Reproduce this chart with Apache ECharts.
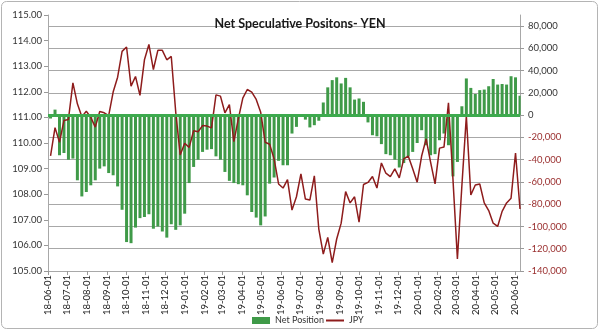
<!DOCTYPE html>
<html>
<head>
<meta charset="utf-8">
<title>Net Speculative Positons- YEN</title>
<script src="https://cdn.jsdelivr.net/npm/echarts@6/dist/echarts.min.js"></script>
<style>
  html, body { margin: 0; padding: 0; background: #fff; }
  #chart { width: 600px; height: 333px; }
</style>
</head>
<body>
<div id="chart"></div>
<script>
// Weekly COT report dates start here and step one week per value.
const firstReportDate = '2018-06-05';
const axisStartDate = '2018-06-01';
const axisEndDate = '2020-06-09';

// Net speculative position in yen futures (contracts), one value per week.
const netPosition = [
  -3000, 5000, -36000, -34000, -40000, -39000, -58500, -73000, -69000, -63000,
  -58500, -48000, -46000, -52000, -54000, -64000, -85000, -114000, -115000, -101000,
  -92500, -91500, -89000, -102000, -100000, -104500, -110000, -98000, -103000, -99000,
  -88500, -61000, -46500, -40000, -33000, -31000, -30500, -37000, -40000, -51000,
  -59000, -61000, -62000, -63000, -72000, -87000, -92000, -99000, -91000, -61500,
  -56000, -41000, -45000, -45000, -16500, -10500, -1000, -4000, -11000, -9000,
  -5000, 11400, 25000, 31500, 34000, 28500, 33500, 25000, 14000, 15000,
  12000, -6500, -18000, -19000, -26000, -35000, -36000, -40000, -47000, -43000,
  -37000, -33000, -25000, -13500, -27000, -36000, -35000, -22500, -16500, -27000,
  -55000, -42000, 8000, 33000, 24500, 19000, 22500, 23000, 26000, 32500,
  27500, 28000, 27500, 35000, 34000, 17500
];

// USD/JPY on the same weekly dates.
const jpy = [
  109.50, 110.60, 110.03, 110.88, 110.92, 112.35, 111.53, 111.03, 111.24, 111.00,
  110.62, 111.23, 111.18, 111.07, 111.99, 112.57, 113.58, 113.75, 112.22, 112.60,
  111.86, 113.25, 113.85, 112.87, 113.62, 113.62, 113.25, 113.38, 111.20, 109.53,
  109.99, 109.83, 110.48, 110.44, 110.68, 110.66, 110.59, 111.88, 111.83, 111.18,
  111.50, 110.05, 110.94, 111.75, 112.09, 111.99, 111.70, 111.20, 110.03, 109.95,
  109.38, 108.40, 108.24, 108.57, 107.38, 107.90, 108.79, 107.81, 107.77, 108.72,
  106.64, 105.66, 106.31, 105.33, 106.25, 106.87, 108.10, 107.66, 107.90, 106.91,
  108.38, 108.46, 108.69, 108.24, 109.22, 108.82, 108.69, 108.99, 108.64, 109.38,
  109.49, 108.99, 108.47, 109.49, 110.16, 109.25, 108.40, 109.80, 109.84, 111.57,
  108.60, 105.47, 108.33, 111.05, 107.97, 108.36, 108.40, 107.66, 107.36, 106.87,
  106.74, 107.33, 107.66, 107.84, 109.61, 107.42
];

// Axis settings
const leftAxisRange = { min: 105, max: 115, step: 1 };
const rightAxisRange = { min: -140000, max: 90000, step: 20000 };

const DAY = 86400000;
function parseDate(s) {
  const [y, m, d] = s.split('-').map(Number);
  return Date.UTC(y, m - 1, d);
}
function fmtDate(t) {
  const d = new Date(t);
  const p = n => String(n).padStart(2, '0');
  return d.getUTCFullYear() + '-' + p(d.getUTCMonth() + 1) + '-' + p(d.getUTCDate());
}

// One category per calendar day so month labels land on their true dates.
const dayCategories = [];
for (let t = parseDate(axisStartDate); t <= parseDate(axisEndDate); t += DAY) {
  dayCategories.push(fmtDate(t));
}
const reportDates = netPosition.map((_, i) => fmtDate(parseDate(firstReportDate) + i * 7 * DAY));

const isMonthStart = (idx, val) => val.slice(8) === '01';
const FONT = 'Lato, "Open Sans", sans-serif';
const GREEN = '#3f9a48';
const RED = '#8e1c1c';
const GRID_GRAY = '#a8a8a8';
const legendText = { fontFamily: FONT, fontSize: 9, color: '#333' };

const chart = echarts.init(document.getElementById('chart'), null, { renderer: 'canvas' });

chart.setOption({
  animation: false,
  backgroundColor: '#fff',
  textStyle: { fontFamily: FONT },
  title: {
    text: 'Net Speculative Positons- YEN',
    left: 'center',
    top: 12,
    textStyle: { fontFamily: FONT, fontSize: 12.5, fontWeight: 'bold', color: '#1a1a1a' }
  },
  graphic: [{
    type: 'rect',
    shape: { x: 1.5, y: 1.5, width: 596, height: 327, r: 5 },
    style: { fill: 'none', stroke: '#b4b4b4', lineWidth: 1 },
    silent: true,
    z: -1
  }],
  // Two legend blocks: a filled swatch for the bars, a plain stroke for the line.
  legend: [
    {
      data: [{ name: 'Net Position', icon: 'rect' }],
      left: 247,
      top: 311,
      itemWidth: 18,
      itemHeight: 7,
      itemGap: 4,
      textStyle: legendText
    },
    {
      data: [{ name: 'JPY', icon: 'rect' }],
      left: 321,
      top: 311,
      itemWidth: 18,
      itemHeight: 2,
      itemGap: 4,
      textStyle: legendText
    }
  ],
  grid: { left: 48, right: 80, top: 15, bottom: 62 },
  xAxis: {
    type: 'category',
    data: dayCategories,
    boundaryGap: false,
    axisLine: { onZero: false, lineStyle: { color: GRID_GRAY } },
    axisTick: { show: true, interval: isMonthStart, length: 4, lineStyle: { color: '#999' } },
    axisLabel: {
      interval: isMonthStart,
      rotate: 90,
      formatter: v => v.slice(2),
      fontFamily: FONT,
      fontSize: 9.5,
      color: '#222',
      margin: 4
    },
    splitLine: { show: false }
  },
  yAxis: [
    {
      type: 'value',
      position: 'left',
      min: leftAxisRange.min,
      max: leftAxisRange.max,
      interval: leftAxisRange.step,
      axisLine: { show: true, lineStyle: { color: GRID_GRAY } },
      axisTick: { show: true, length: 4, lineStyle: { color: '#999' } },
      axisLabel: {
        formatter: v => v.toFixed(2),
        fontFamily: FONT,
        fontSize: 9.5,
        color: '#333',
        margin: 6
      },
      splitLine: { show: false }
    },
    {
      type: 'value',
      position: 'right',
      min: rightAxisRange.min,
      max: rightAxisRange.max,
      interval: rightAxisRange.step,
      axisLine: { show: true, lineStyle: { color: GRID_GRAY } },
      axisTick: { show: true, length: 4, lineStyle: { color: '#999' } },
      axisLabel: {
        showMaxLabel: false,
        formatter: v => v.toLocaleString('en-US'),
        color: v => (v < 0 ? '#9a2f2f' : '#333'),
        fontFamily: FONT,
        fontSize: 9.5,
        margin: 8
      },
      splitLine: { show: true, showMaxLine: false, lineStyle: { color: GRID_GRAY, width: 1 } }
    }
  ],
  series: [
    {
      name: 'Net Position',
      type: 'bar',
      yAxisIndex: 1,
      barWidth: 3,
      itemStyle: { color: GREEN },
      data: reportDates.map((d, i) => [d, netPosition[i]]),
      markLine: {
        silent: true,
        symbol: 'none',
        label: { show: false },
        lineStyle: { color: '#3daa4e', width: 3, type: 'solid' },
        data: [{ yAxis: 0 }]
      },
      z: 2
    },
    {
      name: 'JPY',
      type: 'line',
      yAxisIndex: 0,
      symbol: 'none',
      lineStyle: { color: RED, width: 1.5 },
      itemStyle: { color: RED },
      data: reportDates.map((d, i) => [d, jpy[i]]),
      z: 3
    }
  ]
});
</script>
</body>
</html>
